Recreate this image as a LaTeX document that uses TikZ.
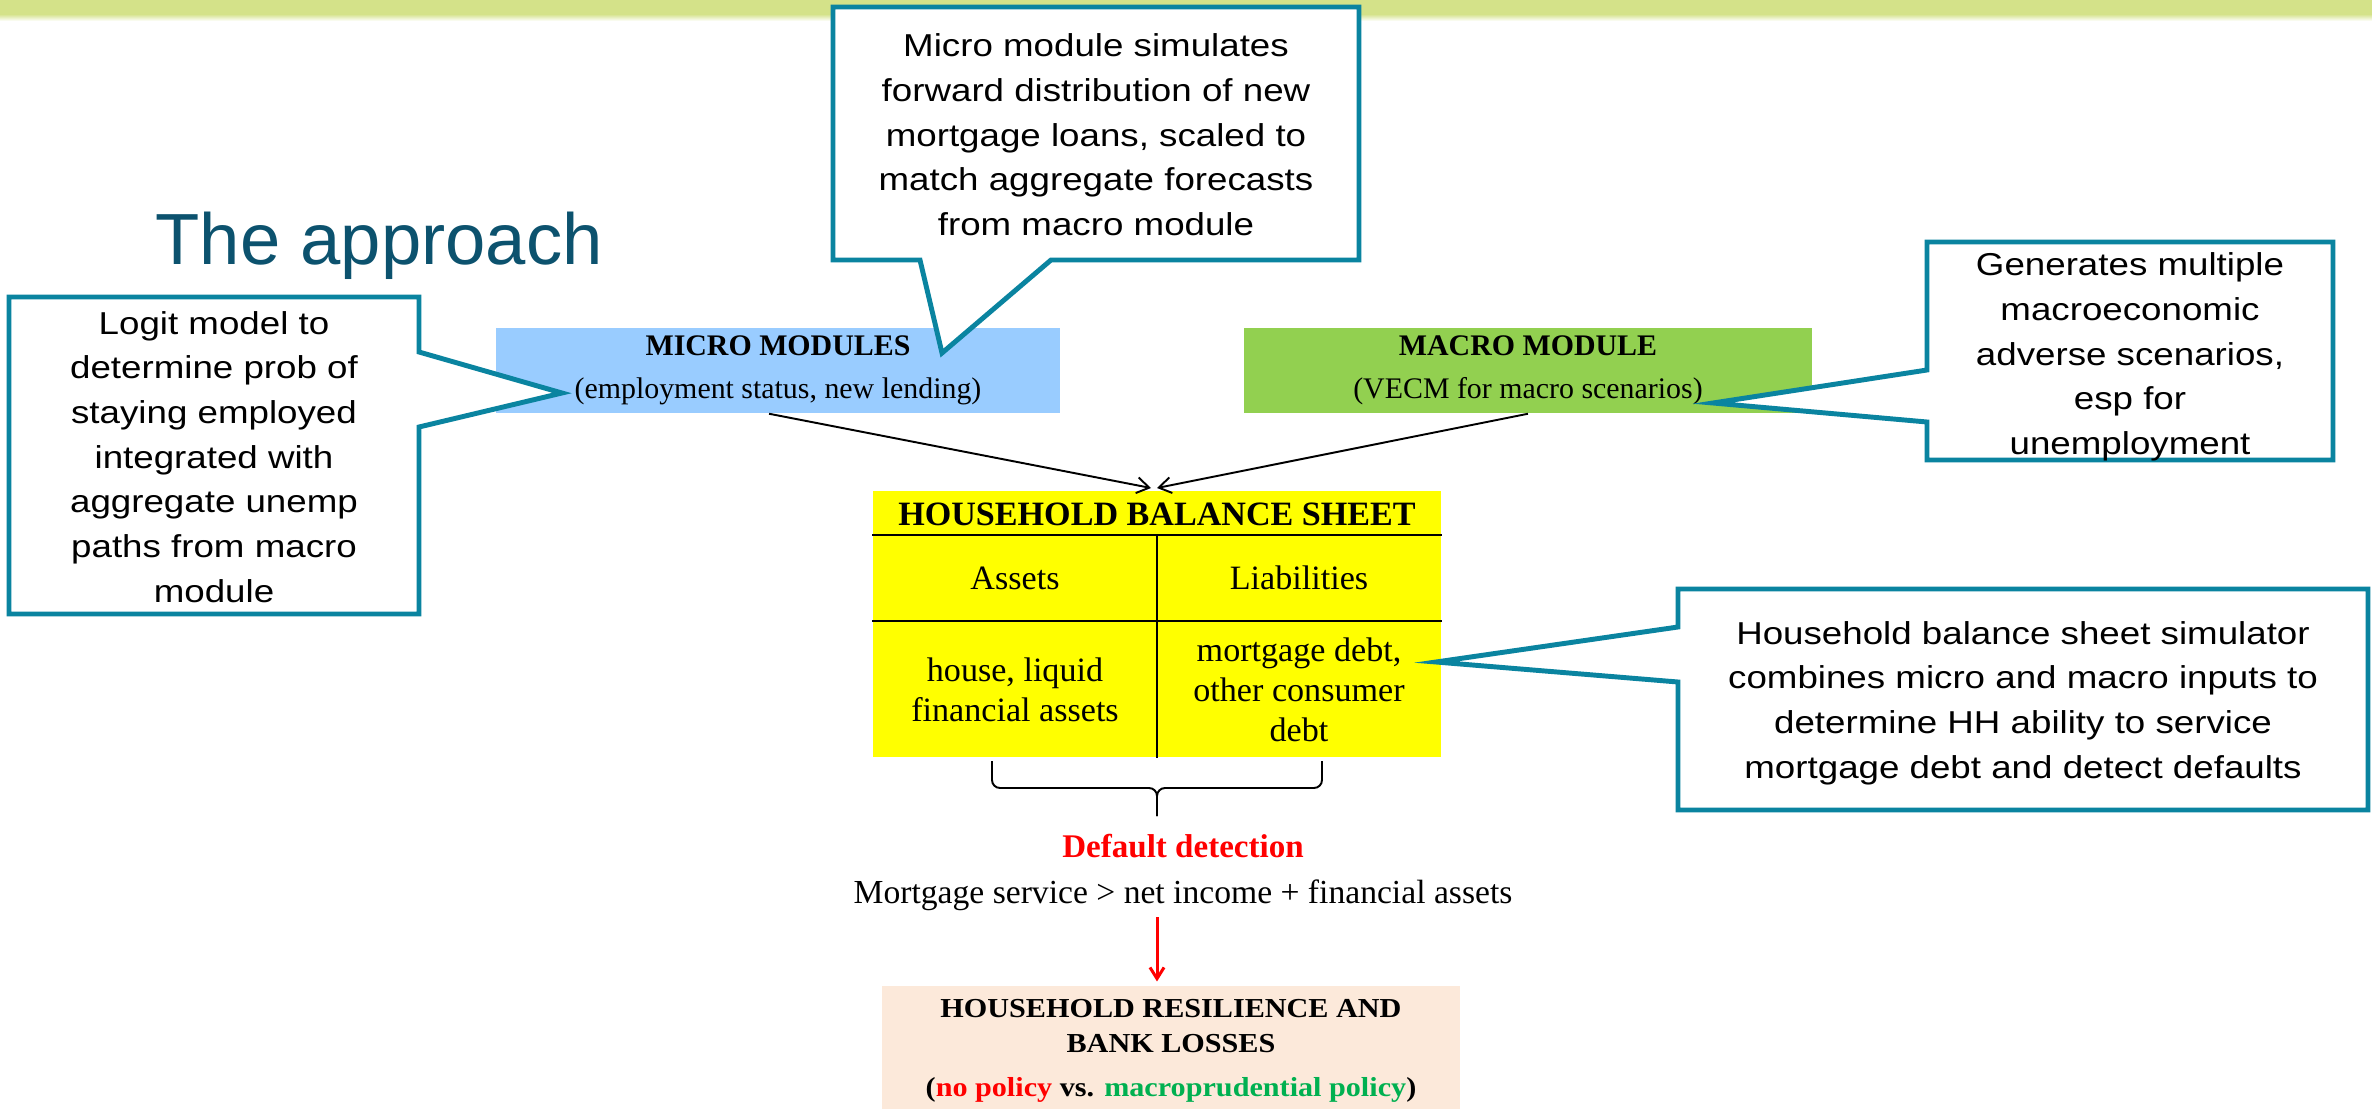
\documentclass[tikz,border=0pt]{standalone}
\usepackage{fontspec}
\setmainfont{Liberation Serif}
\newfontfamily\notefont[FakeStretch=1.16]{Liberation Sans}
\newfontfamily\headfont{Liberation Sans}
\newfontfamily\widefont[FakeStretch=1.1]{Liberation Serif}
\usetikzlibrary{arrows.meta,positioning}
\definecolor{barGreen}{RGB}{212,226,137}
\definecolor{noteTeal}{RGB}{10,132,160}
\definecolor{titleTeal}{RGB}{12,82,110}
\definecolor{microBlue}{RGB}{153,204,255}
\definecolor{macroGreen}{RGB}{146,208,80}
\definecolor{sheetYellow}{RGB}{255,255,0}
\definecolor{lossPeach}{RGB}{252,233,218}
\definecolor{policyGreen}{RGB}{0,176,80}

\begin{document}
\begin{tikzpicture}[
  x=0.01cm,y=-0.01cm,
  note/.style={font=\notefont\fontsize{9pt}{12.7pt}\selectfont,align=center,inner sep=0pt},
  callout/.style={draw=noteTeal,line width=1.4pt,fill=white,line join=miter},
  modbox/.style={minimum height=0.85cm,align=center,inner sep=0pt,font=\fontsize{8.5pt}{12.2pt}\selectfont},
  cell/.style={align=center,inner sep=0pt,font=\fontsize{9.7pt}{11.4pt}\selectfont},
  rule/.style={line width=0.75pt},
  feed/.style={-{Straight Barb[length=3.5pt,width=4.5pt]},line width=0.55pt},
  hit/.style={-{Straight Barb[length=3.2pt,width=4pt]},red,line width=0.85pt},
  brace/.style={line width=0.55pt,rounded corners=0.08cm},
]
\useasboundingbox (0,0) rectangle (2372,1109);
\fill[white] (0,0) rectangle (2372,1109);

% slide band
\fill[barGreen] (0,0) rectangle (2372,14);
\shade[top color=barGreen,bottom color=white] (0,14) rectangle (2372,21);

% title
\node[anchor=base west,inner sep=0pt,text=titleTeal,
      font=\headfont\fontsize{20.6pt}{24pt}\selectfont] (title) at (155,264) {The approach};

% modules
\node[modbox,fill=microBlue,minimum width=5.64cm] (micro) at (778,370.5)
     {\textbf{MICRO MODULES}\\(employment status, new lending)};
\node[modbox,fill=macroGreen,minimum width=5.68cm] (macro) at (1528,370.5)
     {\textbf{MACRO MODULE}\\(VECM for macro scenarios)};

% balance sheet
\node[fill=sheetYellow,minimum width=5.68cm,minimum height=2.66cm,inner sep=0pt] (sheet) at (1157,624) {};
\node[cell,font=\bfseries\fontsize{9.7pt}{11.4pt}\selectfont] (sheethead) at (1157,514) {HOUSEHOLD BALANCE SHEET};
\draw[rule] (sheet.west |- 0,535) -- (sheet.east |- 0,535);
\draw[rule] (sheet.west |- 0,621) -- (sheet.east |- 0,621);
\draw[rule] (1157,535) -- (sheet.south);
\node[cell] (assets) at (1015,578) {Assets};
\node[cell] (liabilities) at (1299,578) {Liabilities};
\node[cell] (assetsdetail) at (1015,690) {house, liquid\\financial assets};
\node[cell] (liabdetail) at (1299,690) {mortgage debt,\\other consumer\\debt};

% inputs into the sheet
\coordinate (microend) at (1151,488);
\coordinate (macroend) at (1157,488);
\draw[feed] ([xshift=-0.09cm]micro.south) -- (microend);
\draw[feed] (macro.south) -- (macroend);

% brace and default rule
\draw[brace] (992,761) |- (1157,788) -- (1157,816);
\draw[brace] (1322,761) |- (1157,788) -- (1157,816);
\node[anchor=base,inner sep=0pt,text=red,font=\bfseries\fontsize{9.4pt}{11pt}\selectfont] (defaultlabel) at (1183,857) {Default detection};
\node[anchor=base,inner sep=0pt,font=\fontsize{9.56pt}{11pt}\selectfont] (mortgage) at (1183,903)
     {Mortgage service > net income + financial assets};

% outcome
\node[fill=lossPeach,minimum width=5.78cm,minimum height=1.30cm,anchor=north,inner sep=0pt,align=center,
      font=\widefont\bfseries\fontsize{7.8pt}{10pt}\selectfont] (loss) at (1171,985)
     {HOUSEHOLD RESILIENCE AND\\BANK LOSSES\\[2.3pt](\textcolor{red}{no policy} vs. \textcolor{policyGreen}{macroprudential policy})};
\draw[hit] (sheet.south |- 0,917) -- ([yshift=1pt]sheet.south |- loss.north);

% callouts
\draw[callout] (9,297) -- (419,297) -- (419,352) -- (562,393) -- (419,427) -- (419,614) -- (9,614) -- cycle;
\draw[callout] (833,7) -- (1359,7) -- (1359,260) -- (1051,260) -- (942,353) -- (920,260) -- (833,260) -- cycle;
\draw[callout] (1927,242) -- (2333,242) -- (2333,460) -- (1927,460) -- (1927,422) -- (1713,403) -- (1927,370) -- cycle;
\draw[callout] (1678,589) -- (2368,589) -- (2368,810) -- (1678,810) -- (1678,682) -- (1436,662) -- (1678,627) -- cycle;

\node[note] (logitnote) at (214,457) {Logit model to\\determine prob of\\staying employed\\integrated with\\aggregate unemp\\paths from macro\\module};
\node[note] (micronote) at (1096,135) {Micro module simulates\\forward distribution of new\\mortgage loans, scaled to\\match aggregate forecasts\\from macro module};
\node[note] (macronote) at (2130,357) {Generates multiple\\macroeconomic\\adverse scenarios,\\esp for\\unemployment};
\node[note] (hhnote) at (2023,703) {Household balance sheet simulator\\combines micro and macro inputs to\\determine HH ability to service\\mortgage debt and detect defaults};
\end{tikzpicture}
\end{document}
